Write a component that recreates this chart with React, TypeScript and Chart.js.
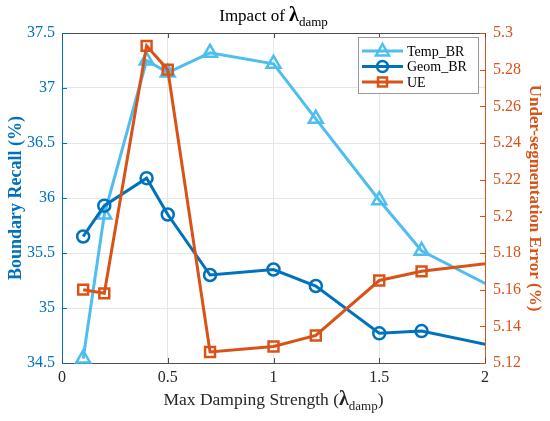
import { useEffect, useRef } from "react";
import { Chart, registerables } from "chart.js";

Chart.register(...registerables);

// damping strength values (last point lies past the visible x range, line is clipped)
const dampValues = [0.1, 0.2, 0.4, 0.5, 0.7, 1.0, 1.2, 1.5, 1.7, 2.5];
const tempBR = [34.54, 35.85, 37.25, 37.14, 37.32, 37.22, 36.72, 35.98, 35.52, 34.73];
const geomBR = [35.65, 35.93, 36.18, 35.85, 35.3, 35.35, 35.2, 34.77, 34.79, 34.47];
const ueValues = [5.16, 5.158, 5.293, 5.28, 5.126, 5.129, 5.135, 5.165, 5.17, 5.181];

const xTicks = [0, 0.5, 1, 1.5, 2];
const leftTicks = [34.5, 35, 35.5, 36, 36.5, 37, 37.5];
const rightTicks = [5.12, 5.14, 5.16, 5.18, 5.2, 5.22, 5.24, 5.26, 5.28, 5.3];

const BLUE = "#0072BD";
const LIGHT = "#4DBEEE";
const ORANGE = "#D95319";
const AXIS = "#4d4d4d";
const SERIF = "'Liberation Serif', 'Times New Roman', serif";

const legendItems = [
  { label: "Temp_BR", color: LIGHT, style: "triangle" },
  { label: "Geom_BR", color: BLUE, style: "circle" },
  { label: "UE", color: ORANGE, style: "rect" },
];

function drawRich(ctx, parts, cx, baseline) {
  let total = 0;
  parts.forEach((p) => {
    ctx.font = p.font;
    total += ctx.measureText(p.text).width;
  });
  let x = cx - total / 2;
  ctx.textAlign = "left";
  ctx.textBaseline = "alphabetic";
  parts.forEach((p) => {
    ctx.font = p.font;
    ctx.fillText(p.text, x, baseline + (p.dy || 0));
    x += ctx.measureText(p.text).width;
  });
}

function drawMarker(ctx, style, x, y, color) {
  ctx.save();
  ctx.strokeStyle = color;
  ctx.lineWidth = 2.5;
  ctx.beginPath();
  if (style === "circle") {
    ctx.arc(x, y, 5.5, 0, Math.PI * 2);
  } else if (style === "rect") {
    ctx.rect(x - 4.5, y - 4.5, 9, 9);
  } else {
    ctx.moveTo(x, y - 7);
    ctx.lineTo(x + 6.5, y + 4.5);
    ctx.lineTo(x - 6.5, y + 4.5);
    ctx.closePath();
  }
  ctx.stroke();
  ctx.restore();
}

const decorPlugin = {
  id: "decor",
  afterDatasetsDraw(chart) {
    const { ctx, chartArea: a, scales } = chart;
    ctx.save();
    // top box line
    ctx.strokeStyle = AXIS;
    ctx.lineWidth = 1;
    ctx.beginPath();
    ctx.moveTo(a.left, a.top + 0.5);
    ctx.lineTo(a.right, a.top + 0.5);
    ctx.stroke();
    // inward ticks
    xTicks.forEach((v) => {
      const px = Math.round(scales.x.getPixelForValue(v)) + 0.5;
      ctx.beginPath();
      ctx.moveTo(px, a.bottom);
      ctx.lineTo(px, a.bottom - 5);
      ctx.moveTo(px, a.top);
      ctx.lineTo(px, a.top + 5);
      ctx.stroke();
    });
    ctx.strokeStyle = BLUE;
    leftTicks.forEach((v) => {
      const py = Math.round(scales.y.getPixelForValue(v)) + 0.5;
      ctx.beginPath();
      ctx.moveTo(a.left, py);
      ctx.lineTo(a.left + 5, py);
      ctx.stroke();
    });
    ctx.strokeStyle = ORANGE;
    rightTicks.forEach((v) => {
      const py = Math.round(scales.y1.getPixelForValue(v)) + 0.5;
      ctx.beginPath();
      ctx.moveTo(a.right, py);
      ctx.lineTo(a.right - 5, py);
      ctx.stroke();
    });
    ctx.restore();
  },
  afterDraw(chart) {
    const { ctx, chartArea: a } = chart;
    ctx.save();
    ctx.fillStyle = "#000";
    const cx = (a.left + a.right) / 2;
    drawRich(
      ctx,
      [
        { text: "Impact of ", font: `17px ${SERIF}` },
        { text: "\u03bb", font: `bold 20px ${SERIF}` },
        { text: "damp", font: `13px ${SERIF}`, dy: 5 },
      ],
      cx,
      21
    );
    ctx.fillStyle = "#262626";
    drawRich(
      ctx,
      [
        { text: "Max Damping Strength (", font: `17.5px ${SERIF}` },
        { text: "\u03bb", font: `bold 20px ${SERIF}` },
        { text: "damp", font: `13px ${SERIF}`, dy: 5 },
        { text: ")", font: `17.5px ${SERIF}` },
      ],
      cx,
      405
    );

    // legend box
    const bx = 358, by = 37, bw = 120, bh = 56;
    ctx.fillStyle = "#fff";
    ctx.fillRect(bx, by, bw, bh);
    ctx.strokeStyle = "#9a9a9a";
    ctx.lineWidth = 1;
    ctx.strokeRect(bx + 0.5, by + 0.5, bw, bh);
    legendItems.forEach((item, i) => {
      const y = by + 14 + i * 15.5;
      ctx.strokeStyle = item.color;
      ctx.lineWidth = 3;
      ctx.beginPath();
      ctx.moveTo(bx + 4, y);
      ctx.lineTo(bx + 45, y);
      ctx.stroke();
      drawMarker(ctx, item.style, bx + 24.5, y, item.color);
      ctx.fillStyle = "#000";
      ctx.font = `14px ${SERIF}`;
      ctx.textAlign = "left";
      ctx.textBaseline = "middle";
      ctx.fillText(item.label, bx + 49, y + 1);
    });
    ctx.restore();
  },
};

const fmt = (v) => String(Number(v.toFixed(2)));

export default function App() {
  const canvasRef = useRef(null);

  useEffect(() => {
    const lineSet = (label, values, color, style, radius, axis, order) => ({
      label,
      data: dampValues.map((x, i) => ({ x, y: values[i] })),
      borderColor: color,
      backgroundColor: "rgba(0,0,0,0)",
      borderWidth: 3,
      pointStyle: style,
      pointRadius: radius,
      pointBorderWidth: 2.5,
      pointBorderColor: color,
      pointBackgroundColor: "rgba(0,0,0,0)",
      yAxisID: axis,
      order,
      clip: { left: 8, top: 8, right: 0, bottom: 8 },
    });

    const chart = new Chart(canvasRef.current, {
      type: "line",
      data: {
        datasets: [
          lineSet("UE", ueValues, ORANGE, "rect", 7, "y1", 0),
          lineSet("Geom_BR", geomBR, BLUE, "circle", 6, "y", 1),
          lineSet("Temp_BR", tempBR, LIGHT, "triangle", 8, "y", 2),
        ],
      },
      options: {
        animation: false,
        responsive: true,
        maintainAspectRatio: false,
        layout: { padding: { top: 33, left: 0, right: 0, bottom: 0 } },
        plugins: {
          legend: { display: false },
          tooltip: { enabled: false },
        },
        scales: {
          x: {
            type: "linear",
            min: 0,
            max: 2,
            afterFit: (s) => {
              s.height = 58;
            },
            afterBuildTicks: (s) => {
              s.ticks = xTicks.map((value) => ({ value }));
            },
            ticks: {
              color: "#262626",
              font: { family: SERIF, size: 16 },
              padding: 5,
              callback: (v) => fmt(v),
            },
            grid: { color: "#e6e6e6", drawTicks: false },
            border: { color: AXIS, width: 1 },
          },
          y: {
            position: "left",
            min: 34.5,
            max: 37.5,
            afterFit: (s) => {
              s.width = 62;
            },
            afterBuildTicks: (s) => {
              s.ticks = leftTicks.map((value) => ({ value }));
            },
            ticks: {
              color: BLUE,
              font: { family: SERIF, size: 16 },
              padding: 7,
              callback: (v) => fmt(v),
            },
            grid: { color: "#e6e6e6", drawTicks: false },
            border: { color: BLUE, width: 1 },
            title: {
              display: true,
              text: "Boundary Recall (%)",
              color: BLUE,
              font: { family: SERIF, size: 18, weight: "bold" },
              padding: { top: 6, bottom: 0 },
            },
          },
          y1: {
            position: "right",
            min: 5.12,
            max: 5.3,
            afterFit: (s) => {
              s.width = 65;
            },
            afterBuildTicks: (s) => {
              s.ticks = rightTicks.map((value) => ({ value }));
            },
            ticks: {
              color: ORANGE,
              font: { family: SERIF, size: 16 },
              padding: 8,
              callback: (v) => fmt(v),
            },
            grid: { display: false, drawTicks: false },
            border: { color: ORANGE, width: 1 },
            title: {
              display: true,
              text: "Under-segmentation Error (%)",
              color: ORANGE,
              font: { family: SERIF, size: 17, weight: "bold" },
              padding: { top: 5, bottom: 0 },
            },
          },
        },
      },
      plugins: [decorPlugin],
    });

    return () => {
      chart.destroy();
    };
  }, []);

  return (
    <div style={{ position: "fixed", left: 0, top: 0, width: 550, height: 421, background: "#fff" }}>
      <canvas ref={canvasRef}></canvas>
    </div>
  );
}
